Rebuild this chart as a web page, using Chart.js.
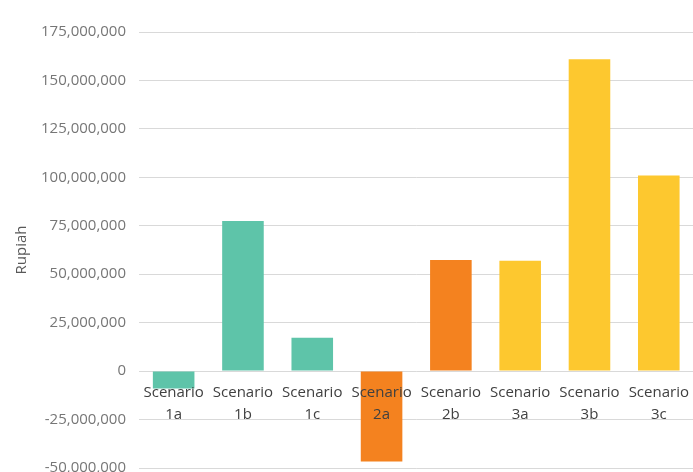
<!DOCTYPE html>
<html>
<head>
<meta charset="utf-8">
<script src="https://cdn.jsdelivr.net/npm/chart.js@4/dist/chart.umd.min.js"></script>
<style>
  html, body { margin: 0; padding: 0; background: #fff; overflow: hidden; }
  #wrap { position: relative; width: 700px; height: 490px; }
</style>
</head>
<body>
<div id="wrap"><canvas id="c"></canvas></div>
<script>
const categories = [
  ['Scenario', '1a'], ['Scenario', '1b'], ['Scenario', '1c'],
  ['Scenario', '2a'], ['Scenario', '2b'],
  ['Scenario', '3a'], ['Scenario', '3b'], ['Scenario', '3c']
];
const scenarioGroup = [1, 1, 1, 2, 2, 3, 3, 3];
const values = [-9000000, 77500000, 17200000, -46600000, 57400000, 57000000, 161000000, 101000000];
const yMin = -50000000;
const yMax = 175000000;
const yStep = 25000000;
const yTitle = 'Rupiah';

const groupColors = { 1: '#5ec4a9', 2: '#f4821f', 3: '#fdc82f' };
const fontFamily = '"Open Sans", "Liberation Sans", sans-serif';

new Chart(document.getElementById('c'), {
  type: 'bar',
  data: {
    labels: categories,
    datasets: [{
      data: values,
      backgroundColor: scenarioGroup.map(g => groupColors[g]),
      borderWidth: 0,
      barPercentage: 0.6,
      categoryPercentage: 1.0
    }]
  },
  options: {
    responsive: true,
    maintainAspectRatio: false,
    animation: false,
    layout: { padding: { left: 13, right: 1, top: 32, bottom: 3 } },
    plugins: { legend: { display: false }, tooltip: { enabled: false } },
    scales: {
      x: {
        position: { y: 0 },
        grid: { display: false, drawTicks: false },
        border: { display: false },
        ticks: {
          z: 1,
          color: '#404040',
          padding: 11,
          maxRotation: 0,
          autoSkip: false,
          font: { family: fontFamily, size: 15, lineHeight: 1.47 }
        }
      },
      y: {
        min: yMin,
        max: yMax,
        afterFit: scale => { scale.width = 126; },
        grid: { color: '#d9d9d9', drawTicks: false, lineWidth: 1 },
        border: { display: false },
        ticks: {
          stepSize: yStep,
          color: '#767676',
          padding: 13,
          font: { family: fontFamily, size: 15 },
          callback: v => Number(v).toLocaleString('en-US')
        },
        title: {
          display: true,
          text: yTitle,
          color: '#595959',
          font: { family: fontFamily, size: 15 },
          padding: { top: 0, bottom: 4 }
        }
      }
    }
  }
});
</script>
</body>
</html>
